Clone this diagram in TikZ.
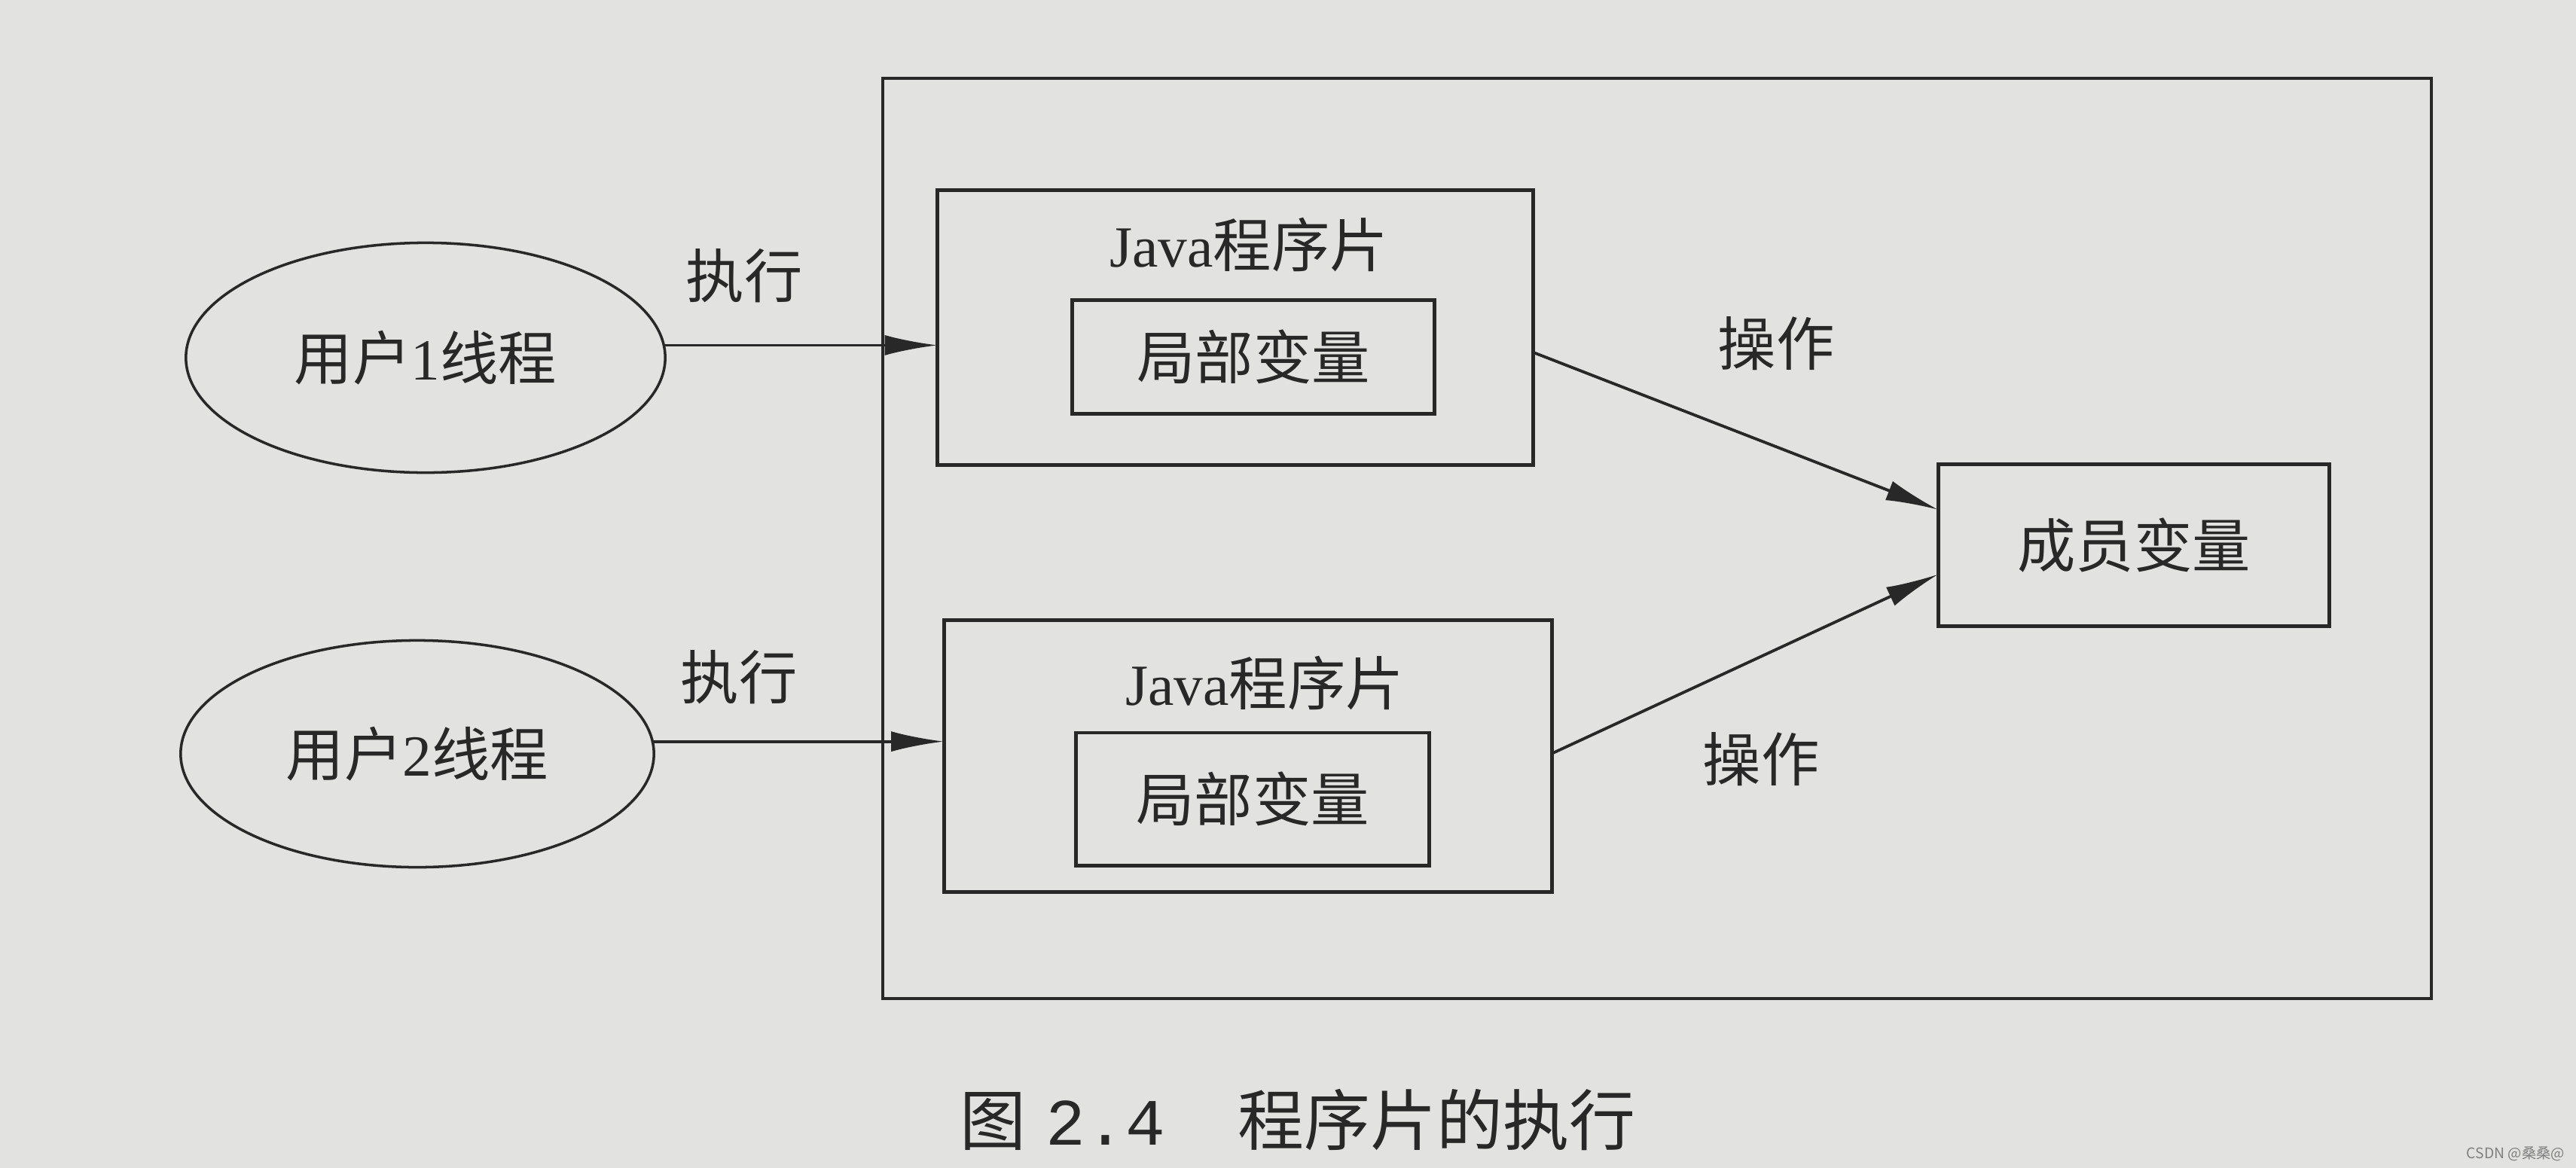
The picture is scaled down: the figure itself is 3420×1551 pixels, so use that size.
\documentclass[tikz,border=0pt]{standalone}
\usepackage{fontspec}
\setmainfont{Liberation Serif}
\setmonofont{Liberation Mono}
\newfontfamily\cjk{Noto Sans CJK SC}
\usetikzlibrary{shapes.geometric,arrows.meta,calc}
\definecolor{paper}{RGB}{226,226,224}
\definecolor{ink}{RGB}{40,40,40}
\begin{document}
\begin{tikzpicture}[x=0.01cm,y=-0.01cm,
  every node/.style={inner sep=0pt, outer sep=0pt},
  lbl/.style={font=\fontsize{22}{26}\selectfont, text=ink},
  thread/.style={ellipse, draw=ink, line width=1pt, font=\fontsize{22}{26}\selectfont, text=ink},
  box/.style={rectangle, draw=ink, line width=1.4pt, font=\fontsize{22}{26}\selectfont, text=ink},
  outerbox/.style={rectangle, draw=ink, line width=1.1pt},
  arr/.style={draw=ink, line width=1.1pt, -{Latex[length=0.7cm,width=0.27cm]}},
]
\fill[paper] (0,0) rectangle (3420,1551);
\useasboundingbox (0,0) rectangle (3420,1551);

\node[outerbox, minimum width=20.55cm, minimum height=12.21cm] (outer) at (2200,715) {};

\node[thread, minimum width=6.36cm, minimum height=3.05cm] (t1) at (565,475) {{\cjk 用户}1{\cjk 线程}};
\node[thread, minimum width=6.28cm, minimum height=3.01cm] (t2) at (554,1001) {{\cjk 用户}2{\cjk 线程}};

\node[box, minimum width=7.9cm, minimum height=3.64cm] (p1) at (1640,435) {};
\node[lbl] (j1) at (1658,325) {Java{\cjk 程序片}};
\node[box, minimum width=4.8cm, minimum height=1.51cm] (v1) at (1664,474) {\cjk 局部变量};

\node[box, minimum width=8.07cm, minimum height=3.6cm] (p2) at (1657,1004) {};
\node[lbl] (j2) at (1679,907) {Java{\cjk 程序片}};
\node[box, minimum width=4.68cm, minimum height=1.76cm] (v2) at (1663,1061) {\cjk 局部变量};

\node[box, minimum width=5.19cm, minimum height=2.14cm] (m) at (2833,724) {\cjk 成员变量};

\draw[arr] (t1.3) -- (t1.3 -| p1.west);
\draw[arr] (t2.3) -- (t2.3 -| p2.west);
\draw[arr] ($(p1.north east)!0.59!(p1.south east)$) -- ($(m.north west)!0.28!(m.south west)$);
\draw[arr] ($(p2.north east)!0.49!(p2.south east)$) -- ($(m.north west)!0.68!(m.south west)$);

\node[lbl] (x1) at (988,366) {\cjk 执行};
\node[lbl] (x2) at (981,899) {\cjk 执行};
\node[lbl] (o1) at (2358,456) {\cjk 操作};
\node[lbl] (o2) at (2338,1008) {\cjk 操作};

\node[font=\fontsize{25}{30}\selectfont, text=ink] (cap) at (1723,1487) {{\cjk 图}\hspace{0.3em}\texttt{2.4}\hspace{1.1em}{\cjk 程序片的执行}};

\node[font=\cjk\fontsize{5.5}{6}\selectfont, text=gray, anchor=east] (wm) at (3405,1532) {CSDN @桑桑@};
\end{tikzpicture}
\end{document}
